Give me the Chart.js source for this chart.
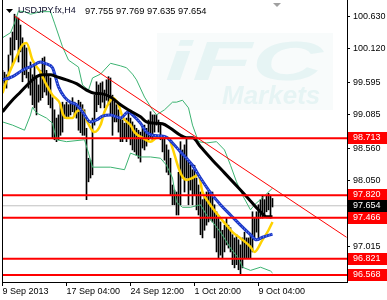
<!DOCTYPE html>
<html>
<head>
<meta charset="utf-8">
<script src="https://cdn.jsdelivr.net/npm/chart.js@4.4.0/dist/chart.umd.min.js"></script>
<style>
  html, body { margin: 0; padding: 0; background: #fff; }
  #wrap { width: 387px; height: 300px; }
</style>
</head>
<body>
<div id="wrap"><canvas id="chart" width="387" height="300"></canvas></div>
<script>
// USDJPY.fx H4 — bar chart with moving averages, bands and levels

const symbolTitle = 'USDJPY.fx,H4';
const lastQuote = [97.755, 97.769, 97.635, 97.654]; // open high low close

// one entry per H4 bar, starting 9 Sep 2013
const highs = [
  99.78, 99.75, 99.71, 100.02, 100.29, 100.38, 100.66, 100.62, 100.60, 100.49,
  100.29, 100.18, 100.13, 99.75, 99.91, 99.71, 99.86, 99.66, 99.55, 99.78,
  99.97, 99.99, 99.78, 99.71, 99.66, 99.35, 99.16, 99.03, 99.08, 99.24,
  99.28, 99.24, 99.28, 99.24, 99.28, 99.35, 99.28, 99.24, 99.31, 99.28,
  99.24, 99.16, 98.87, 98.40, 98.37, 99.03, 99.39, 99.60, 99.55, 99.58,
  99.60, 99.47, 99.63, 99.68, 99.66, 99.39, 99.31, 99.24, 99.16, 99.03,
  99.00, 98.95, 99.03, 99.13, 99.03, 98.97, 98.92, 98.87, 98.84, 98.81,
  98.92, 98.92, 98.87, 99.00, 99.13, 99.08, 99.08, 99.08, 99.00, 98.92,
  98.72, 98.72, 98.61, 98.53, 98.40, 97.98, 97.90, 97.87, 98.18, 98.66,
  98.53, 98.61, 98.72, 98.34, 98.29, 98.22, 98.29, 98.09, 97.98, 97.87,
  97.75, 97.82, 97.87, 97.90, 97.87, 97.87, 97.67, 97.56, 97.46, 97.40,
  97.27, 97.35, 97.46, 97.35, 97.31, 97.20, 97.15, 97.20, 97.12, 97.04,
  97.15, 97.24, 97.15, 97.15, 97.20, 97.56, 97.46, 97.56, 97.67, 97.75,
  97.82, 97.75, 97.82, 97.85, 97.82, 97.769
];
const lows = [
  99.58, 99.53, 99.50, 99.63, 100.02, 99.86, 100.10, 100.26, 99.91, 100.07,
  99.60, 99.71, 99.66, 99.50, 99.39, 99.24, 99.19, 99.08, 99.28, 99.31,
  99.35, 99.44, 99.39, 99.24, 99.19, 98.72, 98.69, 98.66, 98.69, 98.76,
  98.81, 99.03, 99.03, 99.03, 99.08, 99.13, 99.08, 99.03, 98.84, 98.80,
  98.76, 98.76, 97.75, 98.03, 98.09, 98.14, 98.92, 99.13, 99.24, 99.19,
  99.28, 99.19, 99.31, 99.24, 99.08, 98.76, 98.97, 98.97, 98.81, 98.66,
  98.66, 98.72, 98.66, 98.72, 98.61, 98.53, 98.50, 98.45, 98.40, 98.34,
  98.56, 98.53, 98.59, 98.69, 98.72, 98.69, 98.81, 98.92, 98.81, 98.69,
  98.50, 98.37, 98.18, 98.14, 97.82, 97.67, 97.67, 97.51, 97.51, 97.67,
  98.09, 97.87, 98.09, 97.67, 97.90, 97.67, 97.82, 97.59, 97.51, 97.20,
  97.15, 97.27, 97.35, 97.40, 97.43, 97.40, 97.15, 96.93, 96.83, 96.88,
  96.83, 96.93, 97.04, 96.99, 96.93, 96.73, 96.68, 96.73, 96.65, 96.568,
  96.68, 96.83, 96.83, 96.83, 96.83, 96.93, 97.15, 97.24, 97.15, 97.46,
  97.46, 97.51, 97.56, 97.59, 97.46, 97.635
];

// fast MA (yellow)
const fastX = [0, 3, 7, 10, 12, 15, 19, 22, 25, 29, 30, 32, 35, 37, 40, 42, 45, 46, 49, 51, 54, 55, 58, 60, 64, 66, 70, 74, 77, 80, 83, 85, 88, 90, 92, 95, 98, 100, 103, 105, 109, 112, 115, 120, 124, 126, 130, 133, 135];
const fastY = [99.42, 99.71, 99.99, 100.18, 100.21, 99.94, 99.75, 99.55, 99.39, 99.24, 99.11, 99.03, 99.03, 99.13, 99.16, 99.00, 98.83, 98.81, 98.92, 99.13, 99.31, 99.35, 99.24, 99.05, 98.92, 98.81, 98.72, 98.66, 98.72, 98.73, 98.72, 98.56, 98.25, 98.11, 98.06, 98.09, 98.14, 97.87, 97.71, 97.62, 97.46, 97.35, 97.24, 97.12, 97.01, 96.93, 97.12, 97.27, 97.40];

// middle MA (blue)
const midX = [0, 5, 10, 15, 19, 22, 25, 28, 31, 34, 37, 40, 44, 47, 50, 54, 59, 63, 65, 69, 72, 75, 79, 82, 85, 89, 92, 95, 99, 104, 109, 114, 119, 124, 127, 130, 135];
const midY = [99.63, 99.68, 99.78, 99.85, 99.91, 99.88, 99.82, 99.52, 99.36, 99.28, 99.24, 99.13, 98.97, 99.00, 99.06, 99.08, 99.03, 99.13, 99.08, 98.95, 98.81, 98.76, 98.75, 98.73, 98.64, 98.50, 98.40, 98.29, 98.09, 97.86, 97.67, 97.51, 97.35, 97.20, 97.12, 97.16, 97.21];

// slow MA (black)
const slowX = [0, 4, 9, 14, 17, 20, 24, 27, 32, 37, 42, 46, 50, 54, 59, 64, 69, 72, 76, 80, 84, 89, 92, 95, 99, 105, 111, 119, 124, 129, 132, 135];
const slowY = [99.13, 99.28, 99.44, 99.60, 99.68, 99.71, 99.71, 99.68, 99.63, 99.57, 99.47, 99.42, 99.41, 99.36, 99.24, 99.14, 99.05, 98.97, 98.95, 98.94, 98.87, 98.76, 98.72, 98.72, 98.58, 98.37, 98.17, 97.90, 97.73, 97.56, 97.48, 97.48];

// bands (green)
const upperX = [0, 4, 6, 8, 11, 14, 19, 24, 26, 30, 33, 38, 40, 43, 45, 49, 54, 59, 62, 65, 67, 71, 75, 77, 81, 85, 87, 90, 93, 95, 98, 102, 107, 111, 114, 117, 120, 124, 126, 130, 135];
const upperY = [100.29, 100.37, 100.52, 100.71, 100.70, 100.66, 100.70, 100.70, 100.52, 100.15, 99.94, 99.83, 99.55, 99.47, 99.66, 99.72, 99.89, 99.85, 99.82, 99.72, 99.63, 99.36, 99.16, 99.08, 99.16, 99.28, 99.28, 99.31, 99.19, 98.92, 98.66, 98.64, 98.66, 98.53, 98.29, 98.03, 97.82, 97.59, 97.67, 97.78, 97.93];
const lowerX = [0, 5, 11, 14, 15, 17, 22, 25, 27, 32, 41, 43, 45, 54, 61, 64, 69, 74, 79, 82, 85, 87, 90, 94, 99, 102, 105, 109, 114, 118, 120, 124, 129, 134, 135];
const lowerY = [98.97, 98.92, 98.84, 99.08, 99.20, 99.11, 99.03, 98.95, 98.69, 98.66, 98.69, 98.48, 98.26, 98.26, 98.22, 98.48, 98.42, 98.42, 98.40, 98.29, 98.09, 97.71, 97.63, 97.63, 97.67, 97.51, 97.40, 97.24, 96.99, 96.83, 96.69, 96.64, 96.69, 96.63, 96.60];

// trend line from the top
const trendX = [6, 172];
const trendY = [100.63, 97.16];

const levels = [98.713, 97.820, 97.466, 96.821, 96.568];
const bid = 97.654;

const timeTicks = [0, 32, 64, 96, 128];
const timeLabels = ['9 Sep 2013', '17 Sep 04:00', '24 Sep 12:00', '1 Oct 20:00', '9 Oct 04:00'];
const priceTicks = [100.630, 100.120, 99.595, 99.085, 98.560, 98.050, 97.540, 97.015, 96.505];

const xMin = -0.25, xMax = 172.25;
const yMin = 96.458, yMax = 100.883;

const FONT = '"Liberation Sans", Arial, sans-serif';
Chart.defaults.font.family = FONT;
Chart.defaults.font.size = 9;
Chart.defaults.color = '#000';

const pts = (xs, ys) => xs.map((x, i) => ({ x, y: ys[i] }));

function lineSet(label, data, color, width, order, extra) {
  return Object.assign({
    type: 'line', label, data,
    borderColor: color, borderWidth: width,
    pointRadius: 0, fill: false, order
  }, extra || {});
}

const datasets = [];

datasets.push({
  type: 'bar', label: 'bars',
  data: highs.map((h, i) => ({ x: i, y: [lows[i], h] })),
  backgroundColor: '#000', borderWidth: 0,
  barThickness: 1, order: 7
});

datasets.push(lineSet('bid', [{ x: xMin, y: bid }, { x: xMax, y: bid }], '#c0c0c0', 1, 8));
datasets.push(lineSet('upper', pts(upperX, upperY), '#3cb371', 1, 6));
datasets.push(lineSet('lower', pts(lowerX, lowerY), '#3cb371', 1, 6));
datasets.push(lineSet('fast', pts(fastX, fastY), '#ffd200', 2.5, 5, { cubicInterpolationMode: 'monotone' }));
datasets.push(lineSet('mid', pts(midX, midY), '#1a36c8', 3, 4, { cubicInterpolationMode: 'monotone' }));
datasets.push(lineSet('mid dots', pts(midX, midY), '#8fb4ff', 1, 3.5, { cubicInterpolationMode: 'monotone', borderDash: [1, 2] }));
datasets.push(lineSet('slow', pts(slowX, slowY), '#000', 3, 3, { cubicInterpolationMode: 'monotone' }));
datasets.push(lineSet('trend', pts(trendX, trendY), '#ff0000', 1, 1));
levels.forEach(v => {
  datasets.push(lineSet('level ' + v, [{ x: xMin, y: v }, { x: xMax, y: v }], '#ff0000', 2, 0));
});

// watermark, frame, price boxes and title
const decor = {
  id: 'decor',
  beforeDatasetsDraw(chart) {
    const ctx = chart.ctx;
    ctx.save();
    ctx.fillStyle = '#f8fbfb';
    ctx.fillRect(157, 33, 176, 77);
    ctx.fillStyle = '#e6f4f4';
    ctx.translate(165, 80);
    ctx.scale(1.75, 1);
    ctx.font = 'italic bold 56px ' + FONT;
    ctx.fillText('iFC', 0, 0);
    ctx.restore();
    ctx.save();
    ctx.fillStyle = '#e6f4f4';
    ctx.font = 'italic bold 26px ' + FONT;
    ctx.fillText('Markets', 222, 104);
    ctx.restore();
  },
  afterDraw(chart) {
    const ctx = chart.ctx;
    const area = chart.chartArea;
    const ys = chart.scales.y;
    ctx.save();
    ctx.strokeStyle = '#000';
    ctx.lineWidth = 1;
    ctx.beginPath();
    ctx.moveTo(area.left + 0.5, 0);
    ctx.lineTo(area.left + 0.5, area.bottom);
    ctx.stroke();

    ctx.font = '9px ' + FONT;
    ctx.textBaseline = 'middle';
    const box = (v, bg) => {
      const y = Math.round(ys.getPixelForValue(v));
      ctx.fillStyle = bg;
      ctx.fillRect(area.right + 1, y - 6, 40, 12);
      ctx.fillStyle = '#fff';
      ctx.fillText(v.toFixed(3), area.right + 6, y);
    };
    levels.forEach(v => box(v, '#ff0000'));
    box(bid, '#000');

    // title
    ctx.fillStyle = '#000';
    ctx.beginPath();
    ctx.moveTo(6, 9); ctx.lineTo(13, 9); ctx.lineTo(9.5, 13); ctx.closePath();
    ctx.fill();
    ctx.fillStyle = '#0a0a28';
    ctx.fillText(symbolTitle, 18, 11);
    ctx.fillStyle = '#000';
    ctx.font = '9.3px ' + FONT;
    ctx.fillText(lastQuote.map(v => v.toFixed(3)).join(' '), 85, 11);

    // shift marker
    ctx.fillStyle = '#a0a0a0';
    ctx.beginPath();
    ctx.moveTo(273, 3); ctx.lineTo(281, 3); ctx.lineTo(277, 7); ctx.closePath();
    ctx.fill();
    ctx.restore();
  }
};

new Chart(document.getElementById('chart'), {
  type: 'bar',
  data: { datasets },
  options: {
    responsive: false,
    animation: false,
    events: [],
    layout: { padding: { left: 2, right: 0, top: 0, bottom: 0 } },
    plugins: { legend: { display: false }, tooltip: { enabled: false } },
    scales: {
      x: {
        type: 'linear', min: xMin, max: xMax, bounds: 'data', offset: false,
        grid: { drawOnChartArea: false, offset: false, tickLength: 4, color: '#000' },
        border: { display: true, color: '#000' },
        ticks: {
          autoSkip: false, maxRotation: 0, align: 'start', padding: 0,
          callback: (v) => timeLabels[timeTicks.indexOf(v)] || ''
        },
        afterBuildTicks: (s) => { s.ticks = timeTicks.map(v => ({ value: v })); },
        afterFit: (s) => { s.height = 18; s.paddingLeft = 0; s.paddingRight = 0; }
      },
      y: {
        type: 'linear', position: 'right', min: yMin, max: yMax, bounds: 'data',
        grid: { drawOnChartArea: false, tickLength: 3, color: '#000' },
        border: { display: true, color: '#000' },
        ticks: { padding: 3, callback: (v) => Number(v).toFixed(3) },
        afterBuildTicks: (s) => { s.ticks = priceTicks.map(v => ({ value: v })); },
        afterFit: (s) => { s.width = 40; s.paddingTop = 0; s.paddingBottom = 0; }
      }
    }
  },
  plugins: [decor]
});
</script>
</body>
</html>
